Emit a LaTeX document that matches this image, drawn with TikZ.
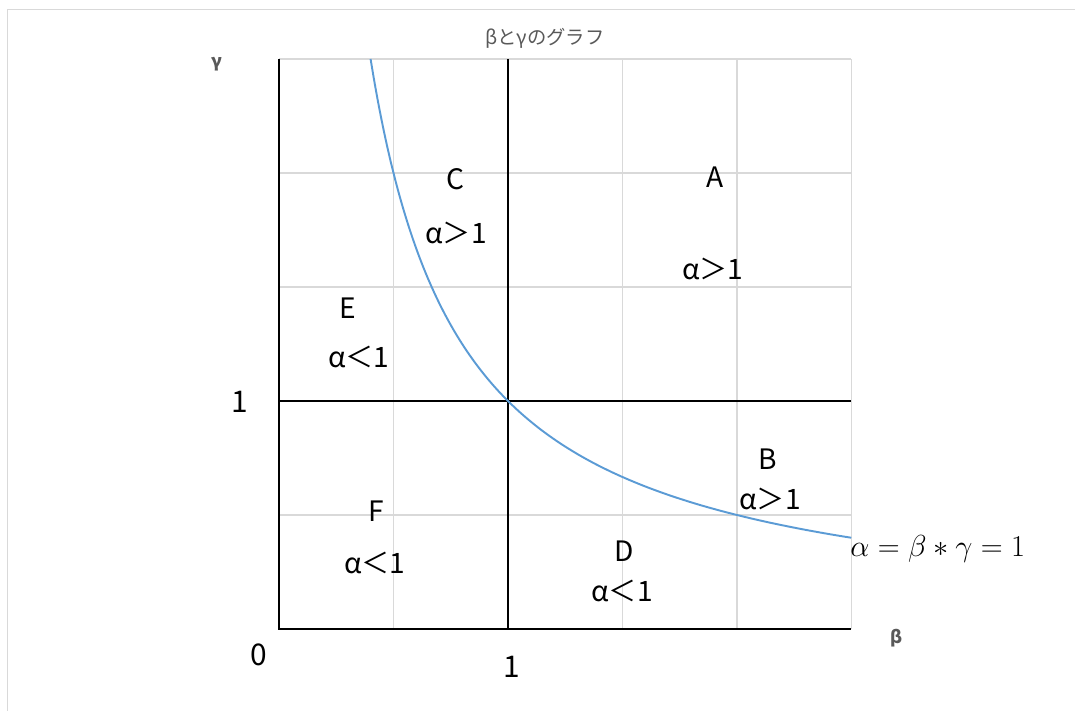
\documentclass[tikz,border=0pt]{standalone}
\usepackage[no-math]{fontspec}
\setmainfont{Noto Sans CJK JP}
\usepackage{tikz}
\usetikzlibrary{calc}
\definecolor{GridGrey}  {HTML}{D9D9D9}
\definecolor{TitleGrey} {HTML}{595959}
\definecolor{CurveBlue} {HTML}{5B9BD5}
\tikzset{
  grid line/.style={draw=GridGrey, line width=0.75pt},
  axis line/.style={draw=black, line width=1.1pt},
}

\begin{document}
\begin{tikzpicture}[x=4.58cm, y=4.56cm,
    region/.style={font=\fontsize{16}{18}\selectfont, inner sep=0pt},
    tick/.style={font=\fontsize{17}{19}\selectfont, inner sep=0pt},
    axname/.style={font=\fontsize{10}{12}\selectfont\bfseries, text=TitleGrey, inner sep=0pt}]
  \useasboundingbox (-1.2183,-0.3596) rectangle (3.4760,2.7588);
  % Frame
  \draw[GridGrey, line width=0.85pt] (3.4760,2.7171) -- (-1.1856,2.7171) -- (-1.1856,-0.3596);
  % Grid
  \foreach \t in {0.5,1.5,2,2.5} {
    \draw[grid line] (\t,0) -- (\t,2.5);
    \draw[grid line] (0,\t) -- (2.5,\t);
  }
  % Axes and the lines at 1
  \draw[axis line] (0,2.5) -- (0,0) -- (2.5,0);
  \draw[axis line] (1,0) -- (1,2.5);
  \draw[axis line] (0,1) -- (2.5,1);
  % Curve
  \draw[CurveBlue, line width=1.1pt, smooth, samples=120, domain=0.4:2.5]
    plot (\x, {1/\x});
  % Title and axis names
  \node[font=\fontsize{11}{13}\selectfont, text=TitleGrey] (title) at (1.1616,2.592) {βとγのグラフ};
  \node[axname] (gname) at (-0.2707,2.478) {γ};
  \node[axname] (bname) at (2.699,-0.0395) {β};
  % Ticks
  \node[tick] (one y) at (-0.170,0.9956) {1};
  \node[tick] (zero)  at (-0.087,-0.114) {0};
  \node[tick] (one x) at (1.017,-0.167) {1};
  % Regions
  \node[region] (A)  at (1.904,1.982)  {A};
  \node[region] (A2) at (1.895,1.579)  {α＞1};
  \node[region] (B)  at (2.135,0.7456) {B};
  \node[region] (B2) at (2.144,0.570)  {α＞1};
  \node[region] (C)  at (0.7686,1.974) {C};
  \node[region] (C2) at (0.773,1.737)  {α＞1};
  \node[region] (D)  at (1.5066,0.342) {D};
  \node[region] (D2) at (1.498,0.1667) {α＜1};
  \node[region] (E)  at (0.301,1.408)  {E};
  \node[region] (E2) at (0.349,1.193)  {α＜1};
  \node[region] (F)  at (0.4236,0.5175){F};
  \node[region] (F2) at (0.419,0.289)  {α＜1};
  % Equation
  \node[font=\fontsize{16}{18}\selectfont, inner sep=0pt, anchor=west] (eq) at (2.4934,0.351)
    {$\alpha=\beta\ast\gamma=1$};
\end{tikzpicture}
\end{document}
